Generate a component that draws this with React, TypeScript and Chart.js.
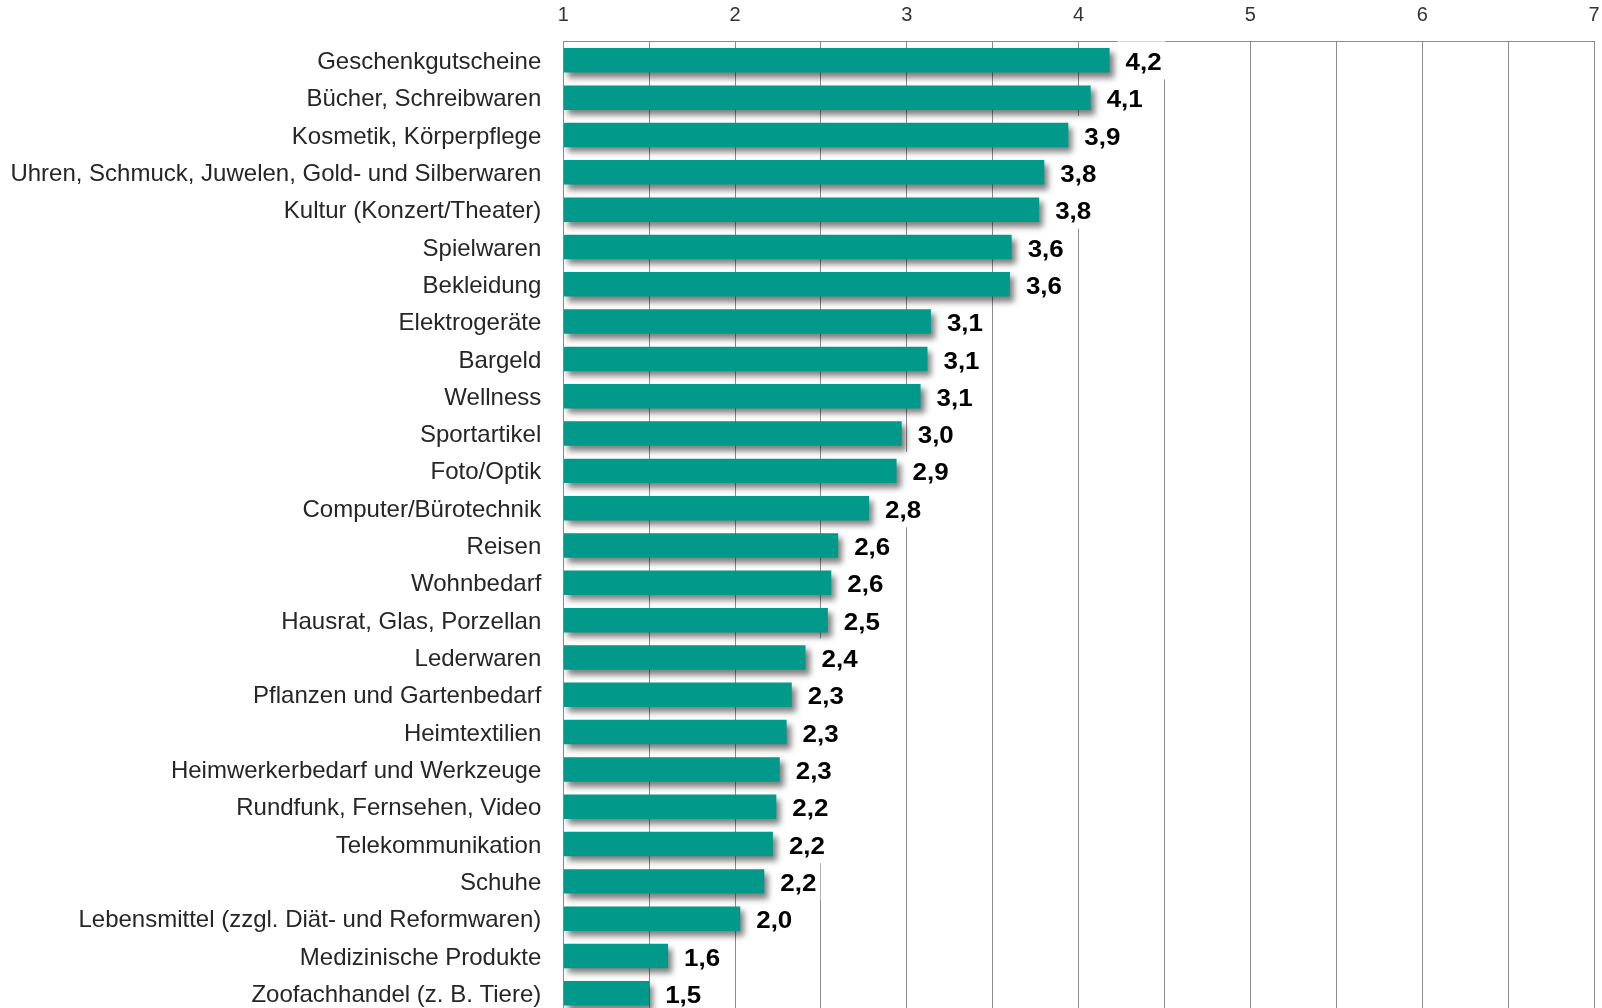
import React, { useEffect, useRef } from 'react';
import { Chart, registerables } from 'chart.js';

Chart.register(...registerables);

const categories: string[] = [
  'Geschenkgutscheine',
  'Bücher, Schreibwaren',
  'Kosmetik, Körperpflege',
  'Uhren, Schmuck, Juwelen, Gold- und Silberwaren',
  'Kultur (Konzert/Theater)',
  'Spielwaren',
  'Bekleidung',
  'Elektrogeräte',
  'Bargeld',
  'Wellness',
  'Sportartikel',
  'Foto/Optik',
  'Computer/Bürotechnik',
  'Reisen',
  'Wohnbedarf',
  'Hausrat, Glas, Porzellan',
  'Lederwaren',
  'Pflanzen und Gartenbedarf',
  'Heimtextilien',
  'Heimwerkerbedarf und Werkzeuge',
  'Rundfunk, Fernsehen, Video',
  'Telekommunikation',
  'Schuhe',
  'Lebensmittel (zzgl. Diät- und Reformwaren)',
  'Medizinische Produkte',
  'Zoofachhandel (z. B. Tiere)',
];

const values: number[] = [
  4.18, 4.07, 3.94, 3.8, 3.77, 3.61, 3.6, 3.14, 3.12, 3.08, 2.97, 2.94, 2.78,
  2.6, 2.56, 2.54, 2.41, 2.33, 2.3, 2.26, 2.24, 2.22, 2.17, 2.03, 1.61, 1.5,
];

const xTicks: number[] = [1, 2, 3, 4, 5, 6, 7];

const BAR_COLOR = '#019a8a';
const GRID_COLOR = '#8c8c8c';
const LABEL_FONT = 'bold 24px "Liberation Sans", Arial, sans-serif';
const SX = 1.08;

const fmt = (v: number) => v.toFixed(1).replace('.', ',');

export default function App() {
  const ref = useRef<HTMLCanvasElement>(null);

  useEffect(() => {
    const canvas = ref.current;
    if (!canvas) return;

    const labelPlugin = {
      id: 'labelsAndShadow',
      beforeDatasetsDraw(chart: any) {
        const ctx = chart.ctx as CanvasRenderingContext2D;
        const meta = chart.getDatasetMeta(0);
        ctx.save();
        ctx.font = LABEL_FONT;
        meta.data.forEach((bar: any, i: number) => {
          const text = fmt(values[i]);
          const w = ctx.measureText(text).width * SX;
          const tx = bar.x + 16;
          ctx.fillStyle = '#ffffff';
          ctx.fillRect(tx - 8, bar.y - 19, w + 12, 38);
        });
        ctx.restore();
        ctx.save();
        ctx.shadowColor = 'rgba(0,0,0,0.5)';
        ctx.shadowBlur = 6;
        ctx.shadowOffsetX = 4;
        ctx.shadowOffsetY = 5;
      },
      afterDatasetsDraw(chart: any) {
        const ctx = chart.ctx as CanvasRenderingContext2D;
        ctx.restore();
        const meta = chart.getDatasetMeta(0);
        ctx.save();
        ctx.font = LABEL_FONT;
        ctx.fillStyle = '#000000';
        ctx.textAlign = 'left';
        ctx.textBaseline = 'middle';
        meta.data.forEach((bar: any, i: number) => {
          const text = fmt(values[i]);
          const tx = bar.x + 16;
          ctx.save();
          ctx.translate(tx, bar.y + 3);
          ctx.scale(SX, 1);
          ctx.fillText(text, 0, 0);
          ctx.restore();
        });
        ctx.restore();
      },
    };

    const chart = new Chart(canvas, {
      type: 'bar',
      data: {
        labels: categories,
        datasets: [
          {
            data: values,
            base: 1,
            backgroundColor: BAR_COLOR,
            borderWidth: 0,
            categoryPercentage: 1,
            barPercentage: 0.656,
          } as any,
        ],
      },
      options: {
        indexAxis: 'y',
        animation: false,
        responsive: false,
        maintainAspectRatio: false,
        layout: { padding: { left: 0, right: 8, top: 0, bottom: 0 } },
        plugins: {
          legend: { display: false },
          tooltip: { enabled: false },
        },
        scales: {
          x: {
            position: 'top',
            min: 1,
            max: 7,
            ticks: {
              stepSize: 0.5,
              autoSkip: false,
              padding: 14,
              color: '#333333',
              font: { family: '"Liberation Sans", Arial, sans-serif', size: 20 },
              callback: (val: any) => (xTicks.includes(Number(val)) ? String(val) : ''),
            },
            grid: {
              color: GRID_COLOR,
              lineWidth: 1,
              drawTicks: false,
            },
            border: { display: true, color: GRID_COLOR, width: 1 },
            afterFit: (scale: any) => {
              scale.height = 41.7;
              scale.paddingLeft = 0;
              scale.paddingRight = 0;
            },
          },
          y: {
            type: 'category',
            offset: true,
            grid: { display: false, drawTicks: false },
            border: { display: true, color: GRID_COLOR, width: 1 },
            ticks: {
              autoSkip: false,
              padding: 22,
              labelOffset: 2,
              color: '#262626',
              font: { family: '"Liberation Sans", Arial, sans-serif', size: 24 },
            },
            afterFit: (scale: any) => {
              scale.width = 563.3;
              scale.paddingTop = 0;
              scale.paddingBottom = 0;
            },
          },
        },
      } as any,
      plugins: [labelPlugin],
    });

    return () => chart.destroy();
  }, []);

  return (
    <div
      style={{
        position: 'fixed',
        left: 0,
        top: 0,
        width: 1602,
        height: 1008,
        overflow: 'hidden',
        background: '#ffffff',
      }}
    >
      <canvas ref={ref} width={1602} height={1012} style={{ width: 1602, height: 1012, display: 'block' }} />
    </div>
  );
}
